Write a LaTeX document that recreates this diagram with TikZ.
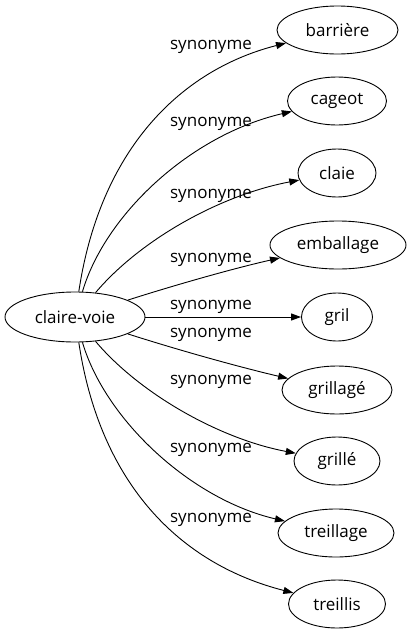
\documentclass[tikz,border=0pt]{standalone}
\usepackage{fontspec}
\setmainfont{Open Sans}
\usetikzlibrary{shapes.geometric,arrows.meta}
\begin{document}
\begin{tikzpicture}[x=1pt,y=-1pt,
  every node/.append style={font=\fontsize{17}{20}\selectfont},
  term/.style={ellipse,draw,line width=0.9pt,inner sep=0pt,minimum height=48pt},
  lbl/.style={inner sep=0pt},
  syn/.style={draw,line width=0.9pt,-{Triangle[length=10pt,width=7pt]}}]
\useasboundingbox (0,0) rectangle (410,635);
\node[term,minimum width=140pt,minimum height=50pt] (cv) at (75,317) {claire-voie};
\node[term,minimum width=121pt] (barriere) at (337.5,30) {barrière};
\node[term,minimum width=99pt] (cageot) at (337,101) {cageot};
\node[term,minimum width=78pt] (claie) at (337,173) {claie};
\node[term,minimum width=136pt] (emballage) at (338,245) {emballage};
\node[term,minimum width=71pt] (gril) at (337,317) {gril};
\node[term,minimum width=110pt] (grillage) at (337,390) {grillagé};
\node[term,minimum width=86pt] (grille) at (337,461) {grillé};
\node[term,minimum width=116pt] (treillage) at (336,533) {treillage};
\node[term,minimum width=97pt] (treillis) at (337,604) {treillis};
\node[lbl] (l1) at (211,47) {synonyme};
\node[lbl] (l2) at (211,124) {synonyme};
\node[lbl] (l3) at (211,196) {synonyme};
\node[lbl] (l4) at (211,260) {synonyme};
\node[lbl] (l5) at (211,307) {synonyme};
\node[lbl] (l6) at (211,335) {synonyme};
\node[lbl] (l7) at (211,382) {synonyme};
\node[lbl] (l8) at (211,450) {synonyme};
\node[lbl] (l9) at (211,520) {synonyme};
\draw[syn] (cv) .. controls (100,150) and (180,70) .. (barriere);
\draw[syn] (cv) .. controls (105,215) and (190,135) .. (cageot);
\draw[syn] (cv) .. controls (140,240) and (220,195) .. (claie);
\draw[syn] (cv) .. controls (175,285) and (235,268) .. (emballage);
\draw[syn] (cv) -- (gril);
\draw[syn] (cv) .. controls (175,349) and (235,366) .. (grillage);
\draw[syn] (cv) .. controls (140,394) and (220,439) .. (grille);
\draw[syn] (cv) .. controls (105,419) and (190,499) .. (treillage);
\draw[syn] (cv) .. controls (100,484) and (180,564) .. (treillis);
\end{tikzpicture}
\end{document}
